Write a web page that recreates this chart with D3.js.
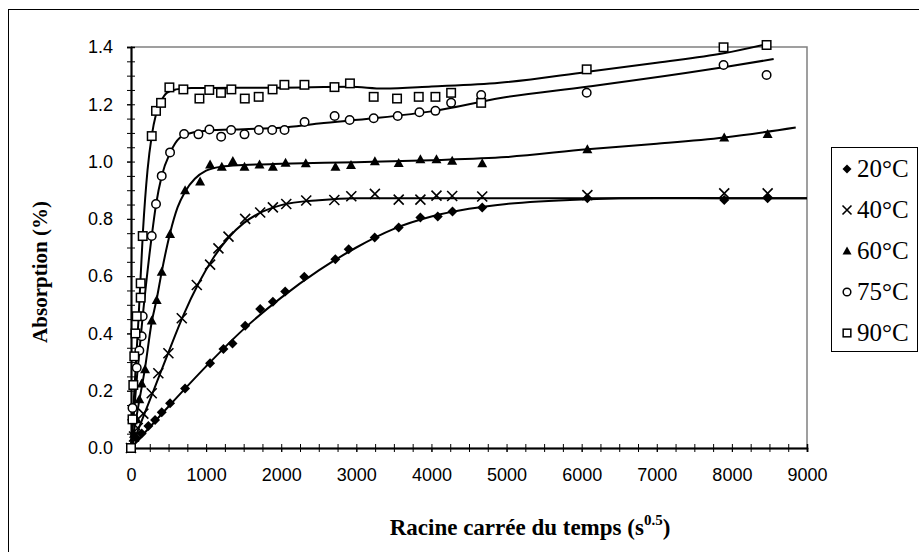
<!DOCTYPE html>
<html>
<head>
<meta charset="utf-8">
<script src="https://cdn.jsdelivr.net/npm/d3@7"></script>
<style>
  body { margin: 0; background: #fff; }
  svg { display: block; }
</style>
</head>
<body>
<div id="chart"></div>
<script>
// Series labels
var seriesNames = ['20°C', '40°C', '60°C', '75°C', '90°C'];

// Measured points [racine du temps, absorption]
var pts20 = [[0, 0], [76, 0.034], [142, 0.051], [231, 0.077], [320, 0.098], [409, 0.125], [520, 0.156],
    [720, 0.208], [1053, 0.296], [1231, 0.346], [1351, 0.365], [1520, 0.427], [1720, 0.485], [1889, 0.511],
    [2053, 0.546], [2307, 0.598], [2720, 0.659], [2898, 0.694], [3244, 0.735], [3564, 0.770], [3853, 0.805],
    [4084, 0.808], [4280, 0.826], [4676, 0.840], [6076, 0.872], [7898, 0.866], [8476, 0.872]];
var pts40 = [[0, 0], [40, 0.04], [90, 0.07], [164, 0.12], [276, 0.191], [364, 0.261], [498, 0.331],
    [676, 0.453], [876, 0.569], [1053, 0.640], [1164, 0.697], [1298, 0.738], [1520, 0.800], [1720, 0.822],
    [1889, 0.840], [2067, 0.852], [2333, 0.864], [2707, 0.866], [2933, 0.879], [3247, 0.887], [3564, 0.867],
    [3853, 0.867], [4067, 0.881], [4276, 0.880], [4676, 0.878], [6076, 0.883], [7898, 0.889], [8476, 0.889]];
var pts60 = [[0, 0], [40, 0.05], [76, 0.10], [111, 0.17], [142, 0.225], [187, 0.275], [276, 0.445],
    [342, 0.517], [409, 0.615], [520, 0.747], [720, 0.900], [920, 0.930], [1053, 0.990], [1209, 0.982],
    [1356, 1.002], [1511, 0.982], [1711, 0.990], [1889, 0.982], [2058, 0.996], [2327, 0.994], [2722, 0.982],
    [2929, 0.988], [3247, 1.001], [3564, 0.995], [3853, 1.008], [4067, 1.008], [4276, 1.003], [4676, 0.994],
    [6076, 1.043], [7898, 1.084], [8476, 1.096]];
var pts75 = [[0, 0], [20, 0.14], [76, 0.28], [111, 0.34], [142, 0.39], [156, 0.46], [276, 0.74],
    [333, 0.852], [409, 0.950], [520, 1.032], [707, 1.096], [898, 1.095], [1044, 1.112], [1200, 1.087],
    [1333, 1.110], [1511, 1.095], [1702, 1.110], [1880, 1.110], [2044, 1.110], [2311, 1.138], [2711, 1.159],
    [2911, 1.145], [3231, 1.151], [3551, 1.159], [3840, 1.172], [4053, 1.177], [4262, 1.205], [4662, 1.232],
    [6067, 1.240], [7889, 1.337], [8462, 1.302]];
var pts90 = [[0, 0], [20, 0.10], [31, 0.22], [44, 0.32], [60, 0.40], [76, 0.46], [129, 0.525],
    [129, 0.575], [156, 0.74], [276, 1.089], [333, 1.177], [400, 1.205], [511, 1.259], [697, 1.252],
    [911, 1.220], [1042, 1.250], [1198, 1.240], [1336, 1.252], [1515, 1.220], [1700, 1.226], [1885, 1.252],
    [2042, 1.268], [2309, 1.268], [2709, 1.260], [2915, 1.273], [3231, 1.226], [3542, 1.220], [3831, 1.226],
    [4053, 1.226], [4262, 1.240], [4662, 1.205], [6067, 1.322], [7889, 1.399], [8462, 1.407]];

// Fitted curves drawn over the points
var fit20 = [[0, 0], [500, 0.145], [1000, 0.285], [1500, 0.415], [2000, 0.525], [2500, 0.620], [3000, 0.700],
    [3500, 0.765], [4000, 0.808], [4500, 0.835], [5000, 0.852], [6000, 0.868], [7000, 0.873], [8000, 0.872], [9000, 0.872]];
var fit40 = [[0, 0], [150, 0.10], [300, 0.20], [500, 0.335], [700, 0.465], [900, 0.575], [1100, 0.665],
    [1300, 0.735], [1500, 0.785], [1750, 0.825], [2000, 0.848], [2500, 0.865], [3000, 0.872], [5000, 0.872], [9000, 0.872]];
var fit60 = [[0, 0], [100, 0.15], [187, 0.28], [276, 0.44], [342, 0.52], [409, 0.615], [520, 0.75], [620, 0.84],
    [720, 0.895], [850, 0.94], [1000, 0.968], [1200, 0.982], [1500, 0.988], [2000, 0.992], [3000, 0.998],
    [4000, 1.005], [5000, 1.016], [6076, 1.043], [7000, 1.062], [7898, 1.084], [8850, 1.119]];
var fit75 = [[0, 0], [80, 0.25], [156, 0.46], [276, 0.74], [333, 0.85], [409, 0.95], [520, 1.03], [650, 1.083],
    [800, 1.100], [1000, 1.108], [1500, 1.113], [2000, 1.118], [2500, 1.133], [3231, 1.151], [4040, 1.177],
    [4920, 1.222], [6070, 1.261], [7889, 1.329], [8556, 1.358]];
var fit90 = [[0, 0], [100, 0.45], [160, 0.76], [220, 0.97], [276, 1.09], [333, 1.165], [400, 1.21], [476, 1.24],
    [600, 1.252], [800, 1.257], [2000, 1.258], [2920, 1.261], [3364, 1.255], [4000, 1.262], [4907, 1.275],
    [6067, 1.313], [7000, 1.345], [7889, 1.378], [8462, 1.41]];

var points = [pts20, pts40, pts60, pts75, pts90];
var fits = [fit20, fit40, fit60, fit75, fit90];
var markers = ['diamond', 'cross', 'triangle', 'circle', 'square'];

// Axis ticks
var yMajor = [0, 0.2, 0.4, 0.6, 0.8, 1.0, 1.2, 1.4];
var xMajor = [0, 1000, 2000, 3000, 4000, 5000, 6000, 7000, 8000, 9000];

var width = 919, height = 552;
var svg = d3.select('#chart').append('svg')
    .attr('width', width)
    .attr('height', height);

// Chart area border (cut off at the right and bottom of the picture)
svg.append('rect')
    .attr('x', 8.5).attr('y', 9.5)
    .attr('width', 1000).attr('height', 1000)
    .attr('fill', 'none').attr('stroke', '#000').attr('stroke-width', 1);

var x = d3.scaleLinear().domain([0, 9000]).range([131, 807]),
    y = d3.scaleLinear().domain([0, 1.4]).range([448, 47]);

// Plot area frame: grey on top and right
svg.append('path')
    .attr('d', 'M' + x(0) + ',' + y(1.4) + 'H' + x(9000) + 'V' + y(0))
    .attr('fill', 'none').attr('stroke', '#808080').attr('stroke-width', 1.5);

// Minor ticks every 0.05 and every 250
var yMinor = d3.range(0, 1.4001, 0.05),
    xMinor = d3.range(0, 9001, 250);

var tickFont = 'Arial, "Liberation Sans", sans-serif';

var yAxisG = svg.append('g').attr('transform', 'translate(' + x(0) + ',0)');
yAxisG.append('g').call(d3.axisLeft(y).tickValues(yMinor).tickSize(4).tickFormat(''));
yAxisG.append('g').call(d3.axisRight(y).tickValues(yMinor).tickSize(4).tickFormat(''));
yAxisG.append('g').call(d3.axisLeft(y).tickValues(yMajor).tickSize(4).tickPadding(14)
    .tickFormat(d3.format('.1f')));
yAxisG.selectAll('.domain').attr('stroke', '#000').attr('stroke-width', 1.5);
yAxisG.selectAll('text')
    .attr('font-family', tickFont)
    .attr('font-size', '18px')
    .attr('fill', '#000');

var xAxisG = svg.append('g').attr('transform', 'translate(0,' + y(0) + ')');
xAxisG.append('g').call(d3.axisBottom(x).tickValues(xMinor).tickSize(4).tickFormat(''));
xAxisG.append('g').call(d3.axisTop(x).tickValues(xMinor).tickSize(4).tickFormat(''));
xAxisG.append('g').call(d3.axisBottom(x).tickValues(xMajor).tickSize(4).tickPadding(16)
    .tickFormat(d3.format('d')));
xAxisG.selectAll('.domain').attr('stroke', '#000').attr('stroke-width', 1.5);
xAxisG.selectAll('text')
    .attr('font-family', tickFont)
    .attr('font-size', '18px')
    .attr('fill', '#000');

// Fitted curves
var line = d3.line()
    .x(function (d) { return x(d[0]); })
    .y(function (d) { return y(d[1]); })
    .curve(d3.curveMonotoneX);

fits.forEach(function (f) {
    svg.append('path')
        .attr('d', line(f))
        .attr('fill', 'none')
        .attr('stroke', '#000')
        .attr('stroke-width', 2);
});

// Marker drawing
function drawMarker(g, type, cx, cy, s) {
    var h = s / 2;
    if (type === 'diamond') {
        g.append('path')
            .attr('d', 'M' + cx + ',' + (cy - h) + 'L' + (cx + h) + ',' + cy + 'L' + cx + ',' + (cy + h) +
                'L' + (cx - h) + ',' + cy + 'Z')
            .attr('fill', '#000');
    } else if (type === 'cross') {
        g.append('path')
            .attr('d', 'M' + (cx - h) + ',' + (cy - h) + 'L' + (cx + h) + ',' + (cy + h) +
                'M' + (cx - h) + ',' + (cy + h) + 'L' + (cx + h) + ',' + (cy - h))
            .attr('stroke', '#000').attr('stroke-width', 1.6).attr('fill', 'none');
    } else if (type === 'triangle') {
        g.append('path')
            .attr('d', 'M' + cx + ',' + (cy - h) + 'L' + (cx + h) + ',' + (cy + h * 0.8) +
                'L' + (cx - h) + ',' + (cy + h * 0.8) + 'Z')
            .attr('fill', '#000');
    } else if (type === 'circle') {
        g.append('circle')
            .attr('cx', cx).attr('cy', cy).attr('r', h * 0.85)
            .attr('fill', '#fff').attr('stroke', '#000').attr('stroke-width', 1.5);
    } else {
        g.append('rect')
            .attr('x', cx - h * 0.85).attr('y', cy - h * 0.85)
            .attr('width', h * 1.7).attr('height', h * 1.7)
            .attr('fill', '#fff').attr('stroke', '#000').attr('stroke-width', 1.5);
    }
}

points.forEach(function (p, i) {
    var g = svg.append('g');
    p.forEach(function (d) {
        drawMarker(g, markers[i], x(d[0]), y(d[1]), 10);
    });
});

// Axis titles
svg.append('text')
    .attr('transform', 'translate(47,272) rotate(-90)')
    .attr('text-anchor', 'middle')
    .attr('font-family', '"Times New Roman", "Liberation Serif", serif')
    .attr('font-weight', 'bold')
    .attr('font-size', '21px')
    .text('Absorption (%)');

var xt = svg.append('text')
    .attr('x', 530).attr('y', 535)
    .attr('text-anchor', 'middle')
    .attr('font-family', '"Times New Roman", "Liberation Serif", serif')
    .attr('font-weight', 'bold')
    .attr('font-size', '23px');
xt.append('tspan').text('Racine carrée du temps (s');
xt.append('tspan').attr('dy', -10).attr('font-size', '15px').text('0.5');
xt.append('tspan').attr('dy', 10).text(')');

// Legend
var legend = svg.append('g');
legend.append('rect')
    .attr('x', 831.5).attr('y', 147.5)
    .attr('width', 86).attr('height', 204)
    .attr('fill', '#fff').attr('stroke', '#000').attr('stroke-width', 1);

var legendY = d3.scalePoint().domain(seriesNames).range([169, 333]);
seriesNames.forEach(function (name, i) {
    var cy = legendY(name);
    drawMarker(legend, markers[i], 847, cy, 9);
    legend.append('text')
        .attr('x', 857).attr('y', cy + 8)
        .attr('font-family', '"Times New Roman", "Liberation Serif", serif')
        .attr('font-size', '25px')
        .text(name);
});
</script>
</body>
</html>
